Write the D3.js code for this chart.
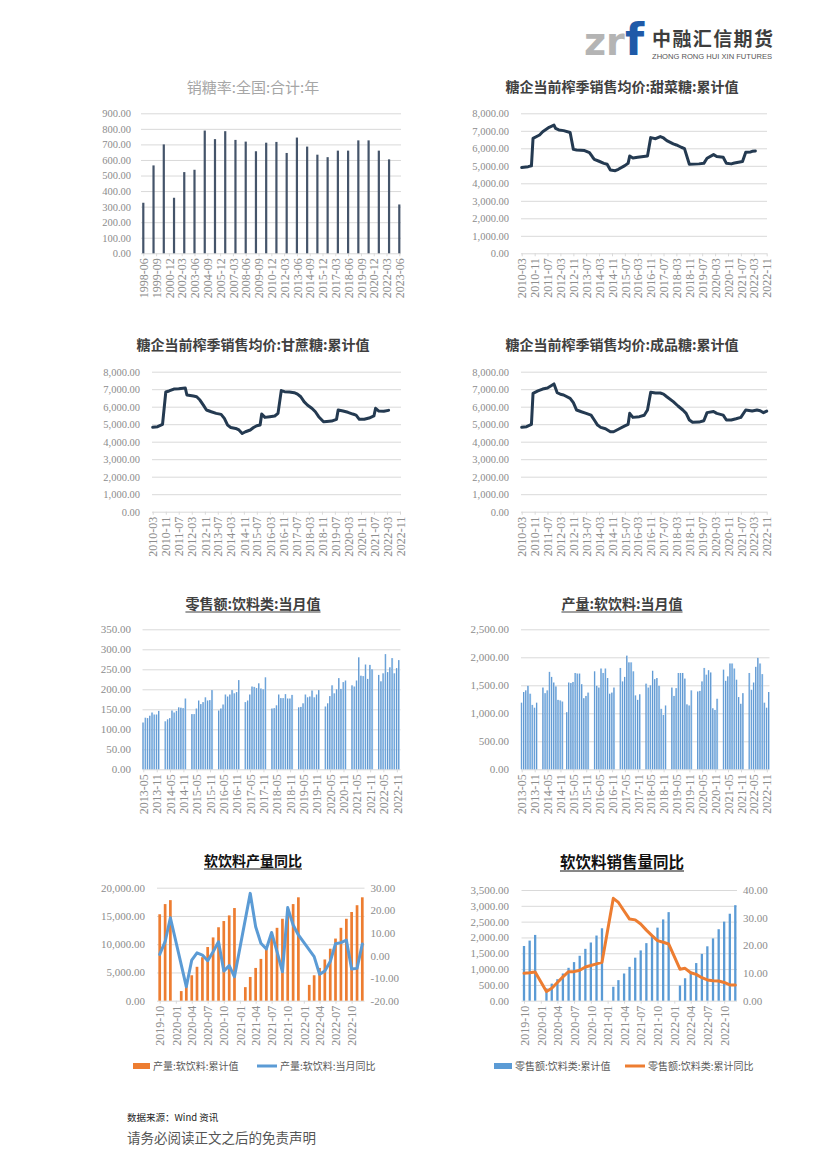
<!DOCTYPE html>
<html>
<head>
<meta charset="utf-8">
<script src="https://cdn.jsdelivr.net/npm/d3@7"></script>
<style>
  body { margin: 0; background: #fff; }
  svg { display: block; }
</style>
</head>
<body>
<svg id="page" width="826" height="1169"></svg>
<script>
// ---------------- data ----------------
// 销糖率:全国:合计:年 (one bar per year, placed at June)
var sellRateDates = ["1998-06","1999-06","2000-06","2001-06","2002-06","2003-06","2004-06","2005-06","2006-06",
  "2007-06","2008-06","2009-06","2010-06","2011-06","2012-06","2013-06","2014-06","2015-06","2016-06",
  "2017-06","2018-06","2019-06","2020-06","2021-06","2022-06","2023-06"];
var sellRateValues = [325,565,700,357,522,537,789,734,785,729,718,656,711,716,645,744,686,634,618,660,660,726,726,660,604,314];
var sellRateTicks = ["1998-06","1999-09","2000-12","2002-03","2003-06","2004-09","2005-12","2007-03","2008-06",
  "2009-09","2010-12","2012-03","2013-06","2014-09","2015-12","2017-03","2018-06","2019-09","2020-12","2022-03","2023-06"];

// 糖企当前榨季销售均价 (read at turning points of the line)
var beetDates = ["2010-03","2010-07","2010-09","2010-10","2011-02","2011-04","2011-08","2011-11","2011-12","2012-02",
  "2012-05","2012-09","2012-11","2013-01","2013-06","2013-09","2013-11","2013-12","2014-03","2014-06","2014-08",
  "2014-10","2015-01","2015-03","2015-07","2015-09","2015-10","2015-12","2016-03","2016-09","2016-11","2017-02",
  "2017-05","2017-07","2017-09","2018-01","2018-03","2018-06","2018-08","2018-11","2019-05","2019-08","2019-10",
  "2020-02","2020-04","2020-08","2020-10","2021-01","2021-03","2021-08","2021-10","2022-01","2022-02","2022-04"];
var beetValues = [4900,4950,5000,6570,6760,6950,7200,7330,7140,7050,7010,6900,5940,5900,5870,5750,5490,5370,5260,
  5140,5090,4760,4720,4800,5010,5140,5560,5450,5490,5560,6610,6550,6670,6590,6440,6250,6190,6060,5980,5090,5110,
  5140,5430,5640,5530,5490,5140,5110,5160,5240,5770,5790,5830,5850];

var caneDates = ["2010-03","2010-06","2010-09","2010-11","2011-01","2011-04","2011-07","2011-11","2011-12","2012-04",
  "2012-06","2012-08","2012-10","2012-12","2013-03","2013-06","2013-09","2013-11","2014-01","2014-03","2014-06",
  "2014-08","2014-10","2014-12","2015-03","2015-05","2015-07","2015-09","2015-10","2015-12","2016-03","2016-06",
  "2016-08","2016-10","2016-12","2017-03","2017-06","2017-08","2017-10","2017-12","2018-02","2018-05","2018-07",
  "2018-09","2018-12","2019-02","2019-05","2019-08","2019-09","2019-12","2020-03","2020-06","2020-08","2020-10",
  "2021-01","2021-04","2021-07","2021-08","2021-10","2022-01","2022-04"];
var caneValues = [4820,4860,4990,6840,6900,7010,7030,7070,6670,6610,6570,6380,6100,5810,5710,5620,5560,5330,4950,
  4810,4760,4670,4470,4570,4670,4810,4910,4950,5580,5390,5430,5470,5620,6920,6860,6840,6800,6720,6570,6290,6100,
  5900,5710,5430,5140,5160,5180,5280,5810,5750,5680,5580,5520,5280,5280,5350,5470,5910,5750,5740,5790];

var refinedDates = ["2010-03","2010-06","2010-09","2010-10","2011-01","2011-04","2011-07","2011-10","2011-11","2012-01",
  "2012-03","2012-05","2012-09","2012-11","2013-01","2013-04","2013-07","2013-10","2013-12","2014-02","2014-04",
  "2014-07","2014-10","2014-12","2015-03","2015-07","2015-09","2015-10","2015-12","2016-04","2016-07","2016-09",
  "2016-11","2017-02","2017-05","2017-07","2017-09","2018-01","2018-04","2018-07","2018-09","2018-11","2019-01",
  "2019-05","2019-08","2019-10","2020-02","2020-04","2020-08","2020-10","2021-01","2021-04","2021-07","2021-10",
  "2022-01","2022-02","2022-05","2022-07","2022-09","2022-11"];
var refinedValues = [4820,4860,4990,6760,6900,7010,7070,7240,7300,6800,6710,6670,6480,6230,5810,5710,5620,5520,5240,
  4950,4820,4740,4570,4570,4710,4900,4990,5620,5390,5430,5510,5810,6820,6780,6780,6720,6570,6290,6040,5810,5620,
  5240,5110,5120,5200,5660,5730,5620,5520,5240,5240,5310,5390,5810,5770,5750,5810,5770,5660,5750];

var priceTicks = ["2010-03","2010-11","2011-07","2012-03","2012-11","2013-07","2014-03","2014-11","2015-07","2016-03",
  "2016-11","2017-07","2018-03","2018-11","2019-07","2020-03","2020-11","2021-07","2022-03","2022-11"];

// 当月值 bars, one list per year
var monthlyYears = [2013,2014,2015,2016,2017,2018,2019,2020,2021,2022];
var retailFirstMonth = [5,3,3,3,3,3,3,3,3,3];
var retailDrinks = [
  [117,129,128,134,142,137,137,146],
  [120,125,128,147,142,146,155,154,153,177],
  [138,138,152,172,163,168,180,172,173,198],
  [147,152,162,187,182,187,198,190,193,223],
  [168,172,187,207,206,203,215,202,200,230],
  [152,153,160,187,178,178,188,177,177,186],
  [155,156,165,187,180,182,197,180,187,198],
  [157,165,183,210,190,200,228,201,218,222],
  [210,207,222,280,234,233,262,226,261,250],
  [236,220,240,288,243,255,278,240,253,273]
];
var outputFirstMonth = [5,3,2,3,3,3,3,3,3,3];
var softDrinkOutput = [
  [1190,1380,1410,1490,1350,1150,1100,1190],
  [1460,1360,1410,1740,1650,1550,1480,1240,1230,1210],
  [1020,1550,1540,1560,1720,1710,1710,1520,1270,1310,1370],
  [1750,1490,1460,1800,1720,1800,1630,1350,1370,1460],
  [1810,1570,1650,2030,1910,1910,1750,1320,1240,1340],
  [1530,1460,1500,1760,1610,1630,1490,1080,970,1140],
  [1460,1310,1450,1720,1720,1720,1620,1160,1140,1410],
  [1390,1400,1570,1810,1690,1770,1730,1090,1060,1260],
  [1780,1580,1660,1890,1890,1800,1600,1290,1170,1360],
  [1720,1420,1550,1830,1990,1890,1700,1190,1100,1380]
];
var monthlyTicks = ["2013-05","2013-11","2014-05","2014-11","2015-05","2015-11","2016-05","2016-11","2017-05","2017-11",
  "2018-05","2018-11","2019-05","2019-11","2020-05","2020-11","2021-05","2021-11","2022-05","2022-11"];

// 累计值 / 同比
var ytdMonths = ["2019-10","2019-11","2019-12",
  "2020-02","2020-03","2020-04","2020-05","2020-06","2020-07","2020-08","2020-09","2020-10","2020-11","2020-12",
  "2021-02","2021-03","2021-04","2021-05","2021-06","2021-07","2021-08","2021-09","2021-10","2021-11","2021-12",
  "2022-02","2022-03","2022-04","2022-05","2022-06","2022-07","2022-08","2022-09","2022-10","2022-11","2022-12"];
var softDrinkYtd = [15300,17100,17800,
  1700,3100,4500,6000,7700,9500,11200,13000,14100,15100,16400,
  2400,4200,5800,7400,9300,11200,12900,14500,15800,17100,18300,
  2800,4500,5800,7300,9200,11000,12900,14500,15700,16900,18300];
var softDrinkYoy = [0.5,6.1,16.7,
  null,-13.8,-2.0,1.2,0.2,-2.3,1.7,6.1,-6.9,-4.5,-9.4,
  null,27.5,12.7,5.4,2.9,10.2,1.7,-7.2,21.2,13.5,9.1,
  null,-0.5,-8.3,-6.9,-2.7,5.2,5.7,6.8,-6.0,-5.7,5.1];
var drinkSalesYtd = [1730,1900,2080,
  390,540,680,860,1040,1220,1420,1640,1840,2060,2290,
  440,650,860,1070,1360,1590,1820,2060,2310,2570,2800,
  480,710,920,1190,1480,1720,1970,2260,2500,2750,3020];
var drinkSalesYoy = [9.9,10.1,10.4,
  3.3,4.5,6.6,8.6,10.5,10.5,11.0,12.2,12.7,13.3,13.9,
  37.0,35.5,32.4,29.5,29.2,27.7,25.5,23.5,21.7,21.1,20.5,
  11.4,11.7,10.1,9.5,8.3,7.5,7.2,7.1,6.6,5.7,5.7];
var ytdTicks = ["2019-10","2020-01","2020-04","2020-07","2020-10","2021-01","2021-04","2021-07","2021-10",
  "2022-01","2022-04","2022-07","2022-10"];

// ---------------- helpers ----------------
var parseMonth = d3.timeParse("%Y-%m");
var fmtMonth = d3.timeFormat("%Y-%m");
var loc = d3.formatLocale({decimal: ".", thousands: ",", grouping: [3], currency: ["", ""], minus: "-"});
var fmt2 = loc.format(".2f");
var fmtComma = loc.format(",.2f");

var CJK = "'Noto Sans CJK SC', 'Noto Sans', sans-serif";
var NUM = "'Liberation Serif', 'DejaVu Serif', serif";
var GRID = "#d9d9d9";
var LABEL = "#8c8c8c";

var svg = d3.select("#page");

var defs = svg.append("defs");
var grad = defs.append("linearGradient").attr("id", "blueBar").attr("x1", 0).attr("x2", 1).attr("y1", 0).attr("y2", 0);
grad.append("stop").attr("offset", "0%").attr("stop-color", "#3d7cc0");
grad.append("stop").attr("offset", "55%").attr("stop-color", "#7bb0e2");
grad.append("stop").attr("offset", "100%").attr("stop-color", "#c3dbf2");

function pairs(dates, values) {
  return dates.map(function(d, i) { return {date: parseMonth(d), value: values[i]}; });
}

function yearBars(years, firstMonth, lists) {
  var out = [];
  lists.forEach(function(list, i) {
    list.forEach(function(v, j) {
      out.push({date: new Date(years[i], firstMonth[i] - 1 + j, 1), value: v});
    });
  });
  return out;
}

// set up one chart frame: grid, left labels, rotated date labels
function frame(c) {
  var g = svg.append("g");
  var x = d3.scaleTime().domain(c.xDomain.map(parseMonth)).range(c.xRange);
  var y = d3.scaleLinear().domain(c.yDomain).range([c.y0, c.y1]);

  var gy = g.append("g")
    .attr("transform", "translate(" + c.gridX0 + ",0)")
    .call(d3.axisLeft(y)
      .tickValues(c.yTicks)
      .tickFormat(c.yFormat)
      .tickSize(-(c.gridX1 - c.gridX0))
      .tickPadding(c.gridX0 - c.labelRight));
  gy.select(".domain").remove();
  gy.selectAll("line").attr("stroke", GRID);
  gy.selectAll("text").attr("fill", LABEL).style("font-family", NUM).style("font-size", c.yFont + "px");

  var gx = g.append("g")
    .attr("transform", "translate(0," + c.y0 + ")")
    .call(d3.axisBottom(x)
      .tickValues(c.xTicks.map(parseMonth))
      .tickFormat(fmtMonth)
      .tickSize(3)
      .tickSizeOuter(0));
  gx.select(".domain").remove();
  gx.selectAll("line").attr("stroke", GRID);
  gx.selectAll("text")
    .attr("fill", LABEL)
    .style("font-family", NUM)
    .style("font-size", (c.xFont || 12) + "px")
    .style("text-anchor", "end")
    .attr("x", -5)
    .attr("y", 0)
    .attr("dy", "0.35em")
    .attr("transform", "rotate(-90)");

  return {g: g, x: x, y: y};
}

function rightAxis(f, c) {
  var y2 = d3.scaleLinear().domain(c.domain).range([f.y.range()[0], f.y.range()[1]]);
  var ga = f.g.append("g")
    .attr("transform", "translate(" + c.at + ",0)")
    .call(d3.axisRight(y2).tickValues(c.ticks).tickFormat(fmt2).tickSize(0).tickPadding(c.pad));
  ga.select(".domain").remove();
  ga.selectAll("text").attr("fill", LABEL).style("font-family", NUM).style("font-size", c.font + "px");
  return y2;
}

function title(txt, cx, by, size, color, weight, underline) {
  var t = svg.append("text")
    .attr("x", cx).attr("y", by)
    .attr("text-anchor", "middle")
    .attr("fill", color)
    .style("font-family", CJK)
    .style("font-size", size + "px")
    .style("font-weight", weight)
    .text(txt);
  if (underline) {
    var b = t.node().getBBox();
    svg.append("line")
      .attr("x1", b.x).attr("x2", b.x + b.width)
      .attr("y1", by + 3).attr("y2", by + 3)
      .attr("stroke", color).attr("stroke-width", 1);
  }
}

function bars(f, data, w, fill, yScale) {
  var ys = yScale || f.y;
  f.g.append("g").selectAll("rect")
    .data(data)
    .enter().append("rect")
    .attr("x", function(d) { return f.x(d.date) - w / 2; })
    .attr("y", function(d) { return ys(d.value); })
    .attr("width", w)
    .attr("height", function(d) { return ys(0) - ys(d.value); })
    .attr("fill", fill);
}

function lineOf(f, data, color, width, yScale) {
  var ys = yScale || f.y;
  var line = d3.line()
    .x(function(d) { return f.x(d.date); })
    .y(function(d) { return ys(d.value); });
  f.g.append("path")
    .datum(data.filter(function(d) { return d.value != null; }))
    .attr("d", line)
    .attr("fill", "none")
    .attr("stroke", color)
    .attr("stroke-width", width)
    .attr("stroke-linejoin", "round")
    .attr("stroke-linecap", "round");
}

// ---------------- header ----------------
svg.append("text").attr("x", 584).attr("y", 55).attr("fill", "#b4b4b4")
  .style("font-family", "'DejaVu Sans', sans-serif").style("font-size", "38px").style("font-weight", "bold")
  .text("z");
svg.append("text").attr("x", 606).attr("y", 55).attr("fill", "#b4b4b4")
  .style("font-family", "'DejaVu Sans', sans-serif").style("font-size", "38px").style("font-weight", "bold")
  .text("r");
svg.append("text").attr("x", 625).attr("y", 55).attr("fill", "#1f5aa8")
  .style("font-family", "'DejaVu Sans', sans-serif").style("font-size", "44px").style("font-weight", "bold")
  .text("f");
svg.append("text").attr("x", 652).attr("y", 46).attr("fill", "#3d3d3d")
  .attr("textLength", 121).attr("lengthAdjust", "spacing")
  .style("font-family", CJK).style("font-size", "19px").style("font-weight", "bold")
  .text("中融汇信期货");
svg.append("text").attr("x", 652).attr("y", 58.5).attr("fill", "#555")
  .attr("textLength", 120).attr("lengthAdjust", "spacingAndGlyphs")
  .style("font-family", "'Liberation Sans', sans-serif").style("font-size", "7px")
  .text("ZHONG RONG HUI XIN FUTURES");

// ---------------- chart 1: 销糖率 ----------------
title("销糖率:全国:合计:年", 253, 93, 15, "#a6a6a6", "normal", false);
var c1 = frame({xDomain: ["1998-06", "2023-06"], xRange: [143.3, 399.3], y0: 253.3, y1: 113.3,
  yDomain: [0, 900], yTicks: d3.range(0, 901, 100), yFormat: fmt2, yFont: 10.5,
  gridX0: 141, gridX1: 401, labelRight: 131, xTicks: sellRateTicks});
bars(c1, pairs(sellRateDates, sellRateValues), 2.2, "#44546a");

// ---------------- chart 2-4: 均价 ----------------
title("糖企当前榨季销售均价:甜菜糖:累计值", 622, 92, 14, "#404040", "bold", false);
var c2 = frame({xDomain: ["2010-03", "2022-11"], xRange: [521.7, 766.7], y0: 253.3, y1: 113.3,
  yDomain: [0, 8000], yTicks: d3.range(0, 8001, 1000), yFormat: fmtComma, yFont: 10.5,
  gridX0: 521, gridX1: 767, labelRight: 509, xTicks: priceTicks});
lineOf(c2, pairs(beetDates, beetValues), "#243a51", 3);

title("糖企当前榨季销售均价:甘蔗糖:累计值", 253, 350, 14, "#404040", "bold", false);
var c3 = frame({xDomain: ["2010-03", "2022-11"], xRange: [152.7, 400], y0: 511.7, y1: 371.7,
  yDomain: [0, 8000], yTicks: d3.range(0, 8001, 1000), yFormat: fmtComma, yFont: 10.5,
  gridX0: 152, gridX1: 401, labelRight: 140, xTicks: priceTicks});
lineOf(c3, pairs(caneDates, caneValues), "#243a51", 3);

title("糖企当前榨季销售均价:成品糖:累计值", 622, 350, 14, "#404040", "bold", false);
var c4 = frame({xDomain: ["2010-03", "2022-11"], xRange: [521.7, 766.7], y0: 511.7, y1: 371.7,
  yDomain: [0, 8000], yTicks: d3.range(0, 8001, 1000), yFormat: fmtComma, yFont: 10.5,
  gridX0: 521, gridX1: 767, labelRight: 509, xTicks: priceTicks});
lineOf(c4, pairs(refinedDates, refinedValues), "#243a51", 3);

// ---------------- chart 5-6: 当月值 ----------------
title("零售额:饮料类:当月值", 253, 609, 14, "#404040", "bold", true);
var c5 = frame({xDomain: ["2013-05", "2022-12"], xRange: [143.3, 399], y0: 769.3, y1: 629.3,
  yDomain: [0, 350], yTicks: d3.range(0, 351, 50), yFormat: fmt2, yFont: 11,
  gridX0: 142.5, gridX1: 400.5, labelRight: 131, xTicks: monthlyTicks});
bars(c5, yearBars(monthlyYears, retailFirstMonth, retailDrinks), 1.7, "url(#blueBar)");

title("产量:软饮料:当月值", 622, 609, 14, "#404040", "bold", true);
var c6 = frame({xDomain: ["2013-05", "2022-12"], xRange: [521.7, 768.9], y0: 769.3, y1: 629.3,
  yDomain: [0, 2500], yTicks: d3.range(0, 2501, 500), yFormat: fmtComma, yFont: 11,
  gridX0: 521, gridX1: 769.5, labelRight: 509, xTicks: monthlyTicks});
bars(c6, yearBars(monthlyYears, outputFirstMonth, softDrinkOutput), 1.7, "url(#blueBar)");

// ---------------- chart 7: 软饮料产量同比 ----------------
title("软饮料产量同比", 253, 866, 14, "#111", "bold", true);
var c7 = frame({xDomain: ["2019-10", "2022-12"], xRange: [159.7, 362.3], y0: 1000.7, y1: 887.7,
  yDomain: [0, 20000], yTicks: d3.range(0, 20001, 5000), yFormat: fmtComma, yFont: 11,
  gridX0: 157, gridX1: 364.5, labelRight: 145, xTicks: ytdTicks});
var c7r = rightAxis(c7, {domain: [-20, 30], ticks: d3.range(-20, 31, 10), at: 364.5, pad: 6, font: 11});
bars(c7, pairs(ytdMonths, softDrinkYtd), 2.7, "#ed7d31");
lineOf(c7, pairs(ytdMonths, softDrinkYoy), "#5b9bd5", 3, c7r);

// ---------------- chart 8: 软饮料销售量同比 ----------------
title("软饮料销售量同比", 622, 868, 15.5, "#111", "bold", true);
var c8 = frame({xDomain: ["2019-10", "2022-12"], xRange: [524, 735.3], y0: 1000.7, y1: 890,
  yDomain: [0, 3500], yTicks: d3.range(0, 3501, 500), yFormat: fmtComma, yFont: 11,
  gridX0: 521.5, gridX1: 737, labelRight: 509, xTicks: ytdTicks});
var c8r = rightAxis(c8, {domain: [0, 40], ticks: d3.range(0, 41, 10), at: 737, pad: 6, font: 11});
bars(c8, pairs(ytdMonths, drinkSalesYtd), 2.3, "#5b9bd5");
lineOf(c8, pairs(ytdMonths, drinkSalesYoy), "#ed7d31", 3, c8r);

// ---------------- legends ----------------
function legendRect(x, y, w, color, label) {
  svg.append("rect").attr("x", x).attr("y", y - 3).attr("width", w).attr("height", 6).attr("fill", color);
  svg.append("text").attr("x", x + w + 3).attr("y", y + 3.5).attr("fill", "#595959")
    .style("font-family", CJK).style("font-size", "10px").text(label);
}
function legendLine(x, y, w, color, label) {
  svg.append("line").attr("x1", x).attr("x2", x + w).attr("y1", y).attr("y2", y)
    .attr("stroke", color).attr("stroke-width", 3);
  svg.append("text").attr("x", x + w + 3).attr("y", y + 3.5).attr("fill", "#595959")
    .style("font-family", CJK).style("font-size", "10px").text(label);
}
legendRect(133, 1066, 17, "#ed7d31", "产量:软饮料:累计值");
legendLine(257, 1066, 20, "#5b9bd5", "产量:软饮料:当月同比");
legendRect(494, 1066, 18, "#5b9bd5", "零售额:饮料类:累计值");
legendLine(625, 1066, 20, "#ed7d31", "零售额:饮料类:累计同比");

// ---------------- footer ----------------
svg.append("text").attr("x", 127).attr("y", 1121).attr("fill", "#222")
  .style("font-family", CJK).style("font-size", "9.5px").text("数据来源：Wind 资讯");
svg.append("text").attr("x", 127).attr("y", 1143).attr("fill", "#555")
  .style("font-family", CJK).style("font-size", "13.5px").text("请务必阅读正文之后的免责声明");
</script>
</body>
</html>
